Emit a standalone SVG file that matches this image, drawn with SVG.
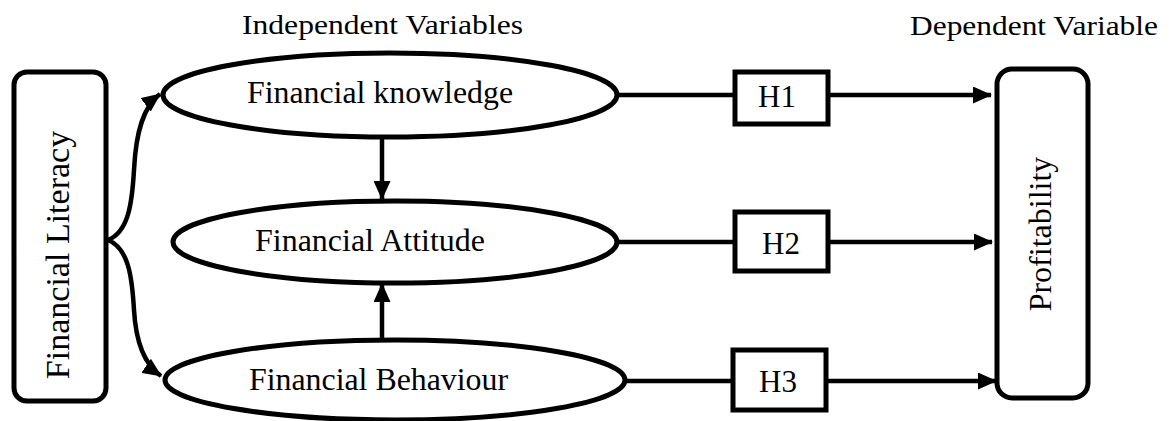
<svg xmlns="http://www.w3.org/2000/svg" width="1171" height="421" viewBox="0 0 1171 421">
  <style>
    .t { font-family: "Liberation Serif", "Times New Roman", serif; fill: #000; }
    .shape { fill: #fff; stroke: #000; stroke-width: 5; }
    .conn { fill: none; stroke: #000; stroke-width: 4.5; }
  </style>
  <defs>
    <marker id="arr" markerUnits="userSpaceOnUse" markerWidth="19" markerHeight="17" refX="18" refY="8.5" orient="auto">
      <path d="M0,0 L19,8.5 L0,17 z" fill="#000"/>
    </marker>
  </defs>
  <rect width="1171" height="421" fill="#fff"/>

  <g id="headers">
    <text class="t" x="242" y="34" font-size="28" textLength="281" lengthAdjust="spacingAndGlyphs">Independent Variables</text>
    <text class="t" x="910" y="35" font-size="28" textLength="248" lengthAdjust="spacingAndGlyphs">Dependent Variable</text>
  </g>

  <g id="connectors">
    <path class="conn" d="M108,240 C128,232 132,205 134,170 C136,130 144,106 160,94" marker-end="url(#arr)"/>
    <path class="conn" d="M108,240 C128,248 132,275 134,310 C136,345 145,365 161,376" marker-end="url(#arr)"/>
    <line class="conn" x1="382" y1="137" x2="382" y2="199" marker-end="url(#arr)"/>
    <line class="conn" x1="382" y1="340" x2="382" y2="284" marker-end="url(#arr)"/>
    <line class="conn" x1="617" y1="95" x2="733" y2="95"/>
    <line class="conn" x1="830" y1="95" x2="991" y2="95" marker-end="url(#arr)"/>
    <line class="conn" x1="617" y1="242" x2="733" y2="242"/>
    <line class="conn" x1="830" y1="242" x2="992" y2="242" marker-end="url(#arr)"/>
    <line class="conn" x1="625" y1="381" x2="731" y2="381"/>
    <line class="conn" x1="828" y1="381" x2="996" y2="381" marker-end="url(#arr)"/>
  </g>

  <g id="financial-literacy">
    <rect class="shape" x="14" y="72" width="92" height="329" rx="13"/>
    <text class="t" x="0" y="0" font-size="34" text-anchor="middle" transform="translate(69,255) rotate(-90)">Financial Literacy</text>
  </g>

  <g id="financial-knowledge">
    <ellipse class="shape" cx="390" cy="95" rx="227" ry="42"/>
    <text class="t" x="247" y="103" font-size="32" textLength="266" lengthAdjust="spacingAndGlyphs">Financial knowledge</text>
  </g>

  <g id="financial-attitude">
    <ellipse class="shape" cx="395" cy="242" rx="222" ry="41"/>
    <text class="t" x="255" y="251" font-size="32" textLength="230" lengthAdjust="spacingAndGlyphs">Financial Attitude</text>
  </g>

  <g id="financial-behaviour">
    <ellipse class="shape" cx="395" cy="380" rx="230" ry="40"/>
    <text class="t" x="249" y="390" font-size="32" textLength="259" lengthAdjust="spacingAndGlyphs">Financial Behaviour</text>
  </g>

  <g id="h1">
    <rect class="shape" x="735" y="72" width="93" height="52"/>
    <text class="t" x="777" y="107" font-size="31" text-anchor="middle">H1</text>
  </g>
  <g id="h2">
    <rect class="shape" x="735" y="212" width="93" height="59"/>
    <text class="t" x="781" y="254" font-size="31" text-anchor="middle">H2</text>
  </g>
  <g id="h3">
    <rect class="shape" x="733" y="350" width="93" height="60"/>
    <text class="t" x="778" y="392" font-size="31" text-anchor="middle">H3</text>
  </g>

  <g id="profitability">
    <rect class="shape" x="997" y="69" width="91" height="329" rx="15"/>
    <text class="t" x="0" y="0" font-size="32" text-anchor="middle" transform="translate(1051,234) rotate(-90)">Profitability</text>
  </g>
</svg>
